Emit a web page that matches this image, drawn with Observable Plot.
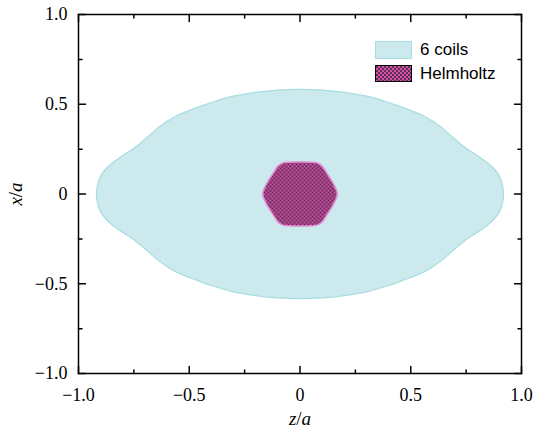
<!DOCTYPE html>
<html><head><meta charset="utf-8">
<script src="https://cdn.jsdelivr.net/npm/d3@7"></script>
<script src="https://cdn.jsdelivr.net/npm/@observablehq/plot@0.6"></script>
<style>
body{margin:0;background:#fff;}
#wrap{position:relative;width:552px;height:432px;}
.legend{position:absolute;left:375px;top:38px;font-family:"Liberation Sans",Arial,sans-serif;font-size:17px;color:#000;}
.row{display:flex;align-items:center;height:24px;}
.row svg{margin-right:8px;}
</style></head><body><div id="wrap"></div>
<script>
// first-quadrant outline (z/a, x/a); the shapes are symmetric in both axes
const coilsZ = [0, 0.1, 0.2, 0.3, 0.4, 0.45, 0.5, 0.55, 0.6, 0.65, 0.7, 0.75, 0.8, 0.85, 0.88, 0.9, 0.912, 0.918, 0.919];
const coilsX = [0.583, 0.579, 0.566, 0.545, 0.51, 0.488, 0.465, 0.44, 0.405, 0.36, 0.305, 0.255, 0.215, 0.17, 0.135, 0.1, 0.06, 0.02, 0];
const helmZ = [0, 0.05, 0.08, 0.1, 0.12, 0.14, 0.158, 0.166, 0.168];
const helmX = [0.178, 0.177, 0.172, 0.155, 0.118, 0.08, 0.04, 0.015, 0];
const majorTicks = [-1, -0.5, 0, 0.5, 1];
const minorTicks = [-0.75, -0.25, 0.25, 0.75];
const seriesNames = ["6 coils", "Helmholtz"];

function outline(zs, xs) {
  const q = zs.map((z, i) => [z, xs[i]]);
  const pts = [];
  q.forEach(([z, x]) => pts.push([z, x]));
  q.slice(0, -1).reverse().forEach(([z, x]) => pts.push([z, -x]));
  q.slice(1).forEach(([z, x]) => pts.push([-z, -x]));
  q.slice(1, -1).reverse().forEach(([z, x]) => pts.push([-z, x]));
  return pts.map(([z, x]) => ({z, x}));
}
const coilsPts = outline(coilsZ, coilsX);
const helmPts = outline(helmZ, helmX);

function hatchDefs() {
  const ns = "http://www.w3.org/2000/svg";
  const defs = document.createElementNS(ns, "defs");
  defs.innerHTML = `<pattern id="hatch" patternUnits="userSpaceOnUse" width="4" height="4"><rect width="4" height="4" fill="#dc4ea2"/><path d="M-1,-1L5,5M5,-1L-1,5" stroke="#35284a" stroke-width="0.8"/></pattern>`;
  return defs;
}
const tickShape = {draw(ctx, l) { ctx.moveTo(0, 0); ctx.lineTo(0, -l); }};
const fmt = d => d === 0 ? "0" : (d < 0 ? "\u2212" : "") + Math.abs(d).toFixed(1);

function ticks(data, len) {
  const o = {length: len, anchor: "start", shape: tickShape, stroke: "black", strokeWidth: 1.5};
  return [
    Plot.vector(data, {...o, x: d => d, y: -1, rotate: 0}),
    Plot.vector(data, {...o, x: d => d, y: 1, rotate: 180}),
    Plot.vector(data, {...o, y: d => d, x: -1, rotate: 90}),
    Plot.vector(data, {...o, y: d => d, x: 1, rotate: -90})
  ];
}

const plot = Plot.plot({
  width: 552, height: 432,
  marginLeft: 78, marginRight: 31, marginTop: 14, marginBottom: 59,
  x: {domain: [-1, 1]},
  y: {domain: [-1, 1]},
  style: {fontFamily: "'Liberation Serif', serif", fontSize: "18px", background: "white", color: "black", overflow: "visible"},
  marks: [
    hatchDefs,
    Plot.line(coilsPts, {x: "z", y: "x", curve: "catmull-rom-closed", fill: "#cceaed", stroke: "#a8dde0", strokeWidth: 1.2}),
    Plot.line(helmPts, {x: "z", y: "x", curve: "catmull-rom-closed", fill: "url(#hatch)", stroke: "#e08fd0", strokeWidth: 1.6}),
    Plot.axisX(majorTicks, {tickSize: 0, tickPadding: 15, tickFormat: fmt, label: null}),
    Plot.axisY(majorTicks, {tickSize: 0, tickPadding: 11, tickFormat: fmt, label: null}),
    ...ticks(majorTicks, 7),
    ...ticks(minorTicks, 3.5),
    Plot.frame({stroke: "black", strokeWidth: 1.5})
  ]
});

const svg = d3.select(plot);
svg.append("text").attr("x", 300).attr("y", 425).attr("text-anchor", "middle")
  .attr("font-family", "'Liberation Serif', serif").attr("font-size", 19).attr("fill", "black")
  .html('<tspan font-style="italic">z</tspan>/<tspan font-style="italic">a</tspan>');
svg.append("text").attr("transform", "translate(22,194) rotate(-90)").attr("text-anchor", "middle")
  .attr("font-family", "'Liberation Serif', serif").attr("font-size", 19).attr("fill", "black")
  .html('<tspan font-style="italic">x</tspan>/<tspan font-style="italic">a</tspan>');

const wrap = document.getElementById("wrap");
wrap.appendChild(plot);
const legend = document.createElement("div");
legend.className = "legend";
legend.innerHTML =
  `<div class="row"><svg width="37" height="18"><rect x="0.5" y="0.5" width="36" height="17" fill="#cceaed" stroke="#a8dde0"/></svg><span>${seriesNames[0]}</span></div>` +
  `<div class="row"><svg width="37" height="18"><rect x="0.5" y="0.5" width="36" height="16" fill="url(#hatch)" stroke="black"/></svg><span>${seriesNames[1]}</span></div>`;
wrap.appendChild(legend);
</script>
</body></html>
